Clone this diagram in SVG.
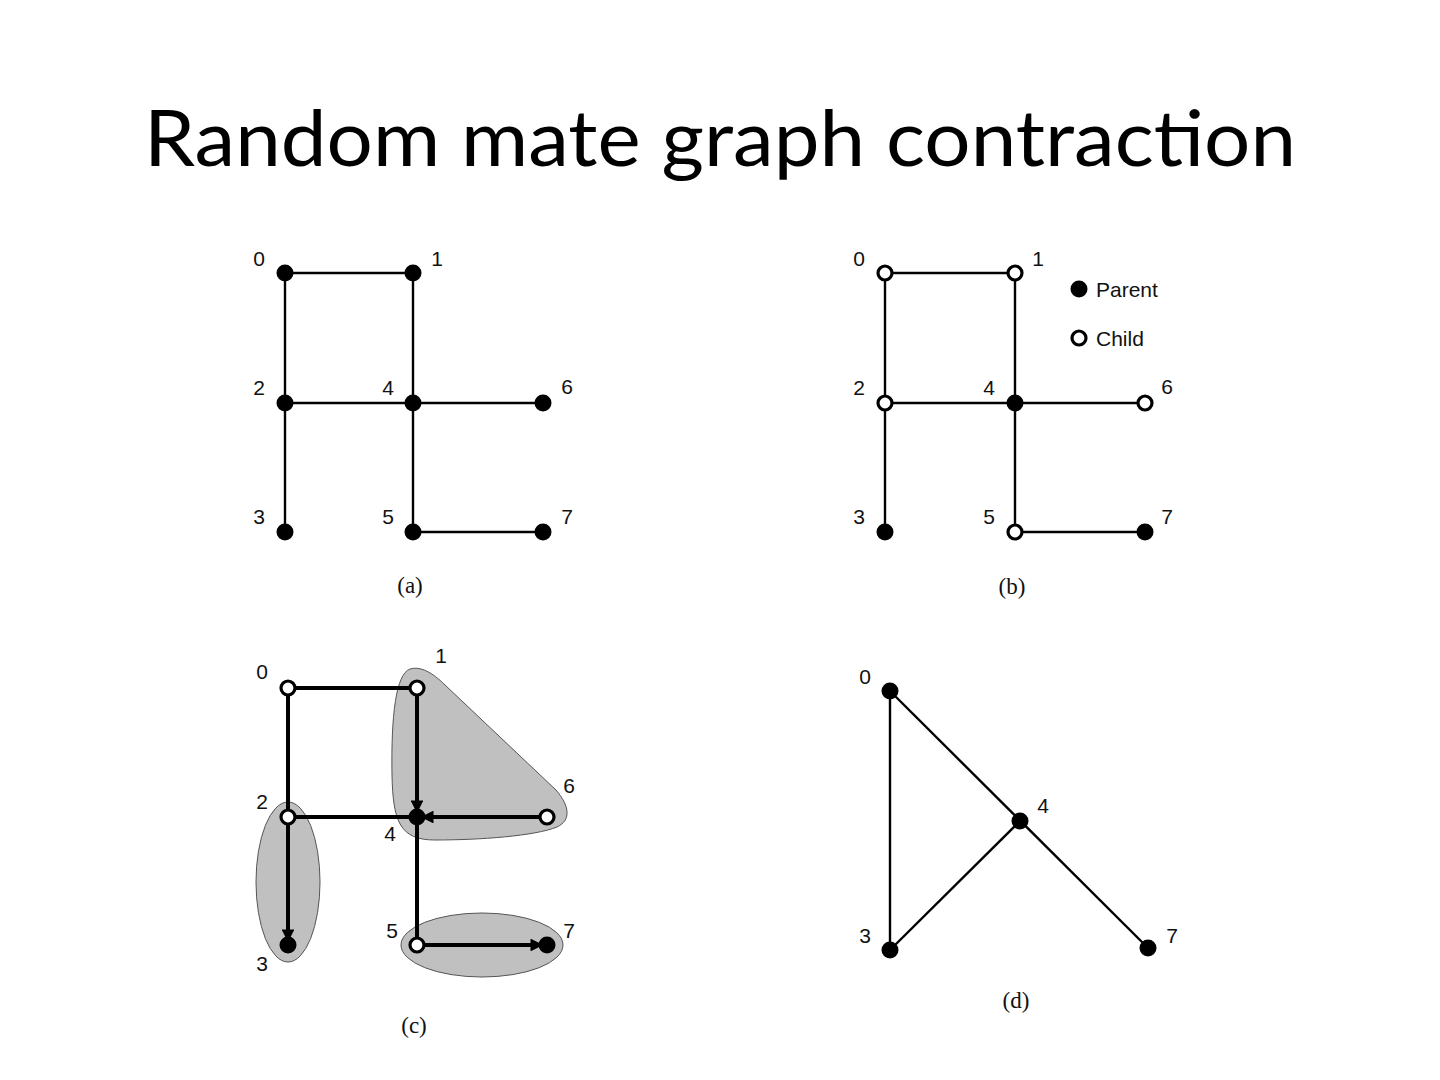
<svg xmlns="http://www.w3.org/2000/svg" width="1440" height="1080" viewBox="0 0 1440 1080">
<defs>
<style>
.title{font-family:Lato,"Open Sans","Liberation Sans",sans-serif;font-size:77px;fill:#000}
.lbl{font-family:"Liberation Sans",Arial,sans-serif;font-size:21px;fill:#111}
.cap{font-family:"Liberation Serif","Times New Roman",serif;font-size:23px;fill:#111}
.e{stroke:#000;stroke-width:2.4;fill:none}
.t{stroke:#000;stroke-width:4;fill:none}
.f{fill:#000}
.o{fill:#fff;stroke:#000;stroke-width:3.2}
.blob{fill:#c0c0c0;stroke:#555;stroke-width:1}
</style>
<marker id="ah" viewBox="0 0 10 10" refX="9" refY="5" markerWidth="3.6" markerHeight="3.2" orient="auto" markerUnits="strokeWidth">
<path d="M0,0 L10,5 L0,10 Z" fill="#000"/>
</marker>
</defs>
<rect width="1440" height="1080" fill="#fff"/>
<text class="title" x="720" y="166" text-anchor="middle" textLength="1152" lengthAdjust="spacingAndGlyphs">Random mate graph contraction</text>

<!-- Panel (c) gray regions -->
<g id="regions-c">
<ellipse class="blob" cx="288" cy="882" rx="32" ry="80"/>
<ellipse class="blob" cx="482" cy="945" rx="81" ry="32"/>
<path class="blob" d="M410,669 C396,674 391,715 392,775 C393,822 400,840 435,840 C480,840 535,836 557,827 C572,820 569,805 556,790 L445,685 C432,672 420,666 410,669 Z"/>
</g>

<g id="connectors">
<!-- (a) -->
<line class="e" x1="285" y1="273" x2="413" y2="273"/>
<line class="e" x1="285" y1="273" x2="285" y2="532"/>
<line class="e" x1="413" y1="273" x2="413" y2="532"/>
<line class="e" x1="285" y1="403" x2="543" y2="403"/>
<line class="e" x1="413" y1="532" x2="543" y2="532"/>
<!-- (b) -->
<line class="e" x1="885" y1="273" x2="1015" y2="273"/>
<line class="e" x1="885" y1="273" x2="885" y2="532"/>
<line class="e" x1="1015" y1="273" x2="1015" y2="532"/>
<line class="e" x1="885" y1="403" x2="1145" y2="403"/>
<line class="e" x1="1015" y1="532" x2="1145" y2="532"/>
<!-- (c) -->
<line class="t" x1="288" y1="688" x2="417" y2="688"/>
<line class="t" x1="288" y1="688" x2="288" y2="817"/>
<line class="t" x1="288" y1="817" x2="417" y2="817"/>
<line class="t" x1="417" y1="817" x2="417" y2="945"/>
<line class="t" x1="417" y1="688" x2="417" y2="812" marker-end="url(#ah)"/>
<line class="t" x1="547" y1="817" x2="422" y2="817" marker-end="url(#ah)"/>
<line class="t" x1="288" y1="817" x2="288" y2="941" marker-end="url(#ah)"/>
<line class="t" x1="417" y1="945" x2="542" y2="945" marker-end="url(#ah)"/>
<!-- (d) -->
<line class="e" x1="890" y1="691" x2="890" y2="950"/>
<line class="e" x1="890" y1="691" x2="1148" y2="948"/>
<line class="e" x1="890" y1="950" x2="1020" y2="821"/>
</g>

<!-- Panel (a) nodes -->
<g id="a-n0"><circle class="f" cx="285" cy="273" r="8.5"/><text class="lbl" x="259" y="266" text-anchor="middle">0</text></g>
<g id="a-n1"><circle class="f" cx="413" cy="273" r="8.5"/><text class="lbl" x="437" y="266" text-anchor="middle">1</text></g>
<g id="a-n2"><circle class="f" cx="285" cy="403" r="8.5"/><text class="lbl" x="259" y="395" text-anchor="middle">2</text></g>
<g id="a-n4"><circle class="f" cx="413" cy="403" r="8.5"/><text class="lbl" x="388" y="395" text-anchor="middle">4</text></g>
<g id="a-n6"><circle class="f" cx="543" cy="403" r="8.5"/><text class="lbl" x="567" y="394" text-anchor="middle">6</text></g>
<g id="a-n3"><circle class="f" cx="285" cy="532" r="8.5"/><text class="lbl" x="259" y="524" text-anchor="middle">3</text></g>
<g id="a-n5"><circle class="f" cx="413" cy="532" r="8.5"/><text class="lbl" x="388" y="524" text-anchor="middle">5</text></g>
<g id="a-n7"><circle class="f" cx="543" cy="532" r="8.5"/><text class="lbl" x="567" y="524" text-anchor="middle">7</text></g>
<text class="cap" x="410" y="593" text-anchor="middle">(a)</text>

<!-- Panel (b) nodes -->
<g id="b-n0"><circle class="o" cx="885" cy="273" r="7"/><text class="lbl" x="859" y="266" text-anchor="middle">0</text></g>
<g id="b-n1"><circle class="o" cx="1015" cy="273" r="7"/><text class="lbl" x="1038" y="266" text-anchor="middle">1</text></g>
<g id="b-n2"><circle class="o" cx="885" cy="403" r="7"/><text class="lbl" x="859" y="395" text-anchor="middle">2</text></g>
<g id="b-n4"><circle class="f" cx="1015" cy="403" r="8.5"/><text class="lbl" x="989" y="395" text-anchor="middle">4</text></g>
<g id="b-n6"><circle class="o" cx="1145" cy="403" r="7"/><text class="lbl" x="1167" y="394" text-anchor="middle">6</text></g>
<g id="b-n3"><circle class="f" cx="885" cy="532" r="8.5"/><text class="lbl" x="859" y="524" text-anchor="middle">3</text></g>
<g id="b-n5"><circle class="o" cx="1015" cy="532" r="7"/><text class="lbl" x="989" y="524" text-anchor="middle">5</text></g>
<g id="b-n7"><circle class="f" cx="1145" cy="532" r="8.5"/><text class="lbl" x="1167" y="524" text-anchor="middle">7</text></g>
<g id="legend">
<circle class="f" cx="1079" cy="289" r="8.5"/><text class="lbl" x="1096" y="297">Parent</text>
<circle class="o" cx="1079" cy="338" r="7"/><text class="lbl" x="1096" y="346">Child</text>
</g>
<text class="cap" x="1012" y="594" text-anchor="middle">(b)</text>

<!-- Panel (c) nodes -->
<g id="c-n0"><circle class="o" cx="288" cy="688" r="7"/><text class="lbl" x="262" y="679" text-anchor="middle">0</text></g>
<g id="c-n1"><circle class="o" cx="417" cy="688" r="7"/><text class="lbl" x="441" y="663" text-anchor="middle">1</text></g>
<g id="c-n2"><circle class="o" cx="288" cy="817" r="7"/><text class="lbl" x="262" y="809" text-anchor="middle">2</text></g>
<g id="c-n4"><circle class="f" cx="417" cy="817" r="8.5"/><text class="lbl" x="390" y="841" text-anchor="middle">4</text></g>
<g id="c-n6"><circle class="o" cx="547" cy="817" r="7"/><text class="lbl" x="569" y="793" text-anchor="middle">6</text></g>
<g id="c-n3"><circle class="f" cx="288" cy="945" r="8.5"/><text class="lbl" x="262" y="971" text-anchor="middle">3</text></g>
<g id="c-n5"><circle class="o" cx="417" cy="945" r="7"/><text class="lbl" x="392" y="938" text-anchor="middle">5</text></g>
<g id="c-n7"><circle class="f" cx="547" cy="945" r="8.5"/><text class="lbl" x="569" y="938" text-anchor="middle">7</text></g>
<text class="cap" x="414" y="1033" text-anchor="middle">(c)</text>

<!-- Panel (d) nodes -->
<g id="d-n0"><circle class="f" cx="890" cy="691" r="8.5"/><text class="lbl" x="865" y="684" text-anchor="middle">0</text></g>
<g id="d-n4"><circle class="f" cx="1020" cy="821" r="8.5"/><text class="lbl" x="1043" y="813" text-anchor="middle">4</text></g>
<g id="d-n3"><circle class="f" cx="890" cy="950" r="8.5"/><text class="lbl" x="865" y="943" text-anchor="middle">3</text></g>
<g id="d-n7"><circle class="f" cx="1148" cy="948" r="8.5"/><text class="lbl" x="1172" y="943" text-anchor="middle">7</text></g>
<text class="cap" x="1016" y="1008" text-anchor="middle">(d)</text>
</svg>
